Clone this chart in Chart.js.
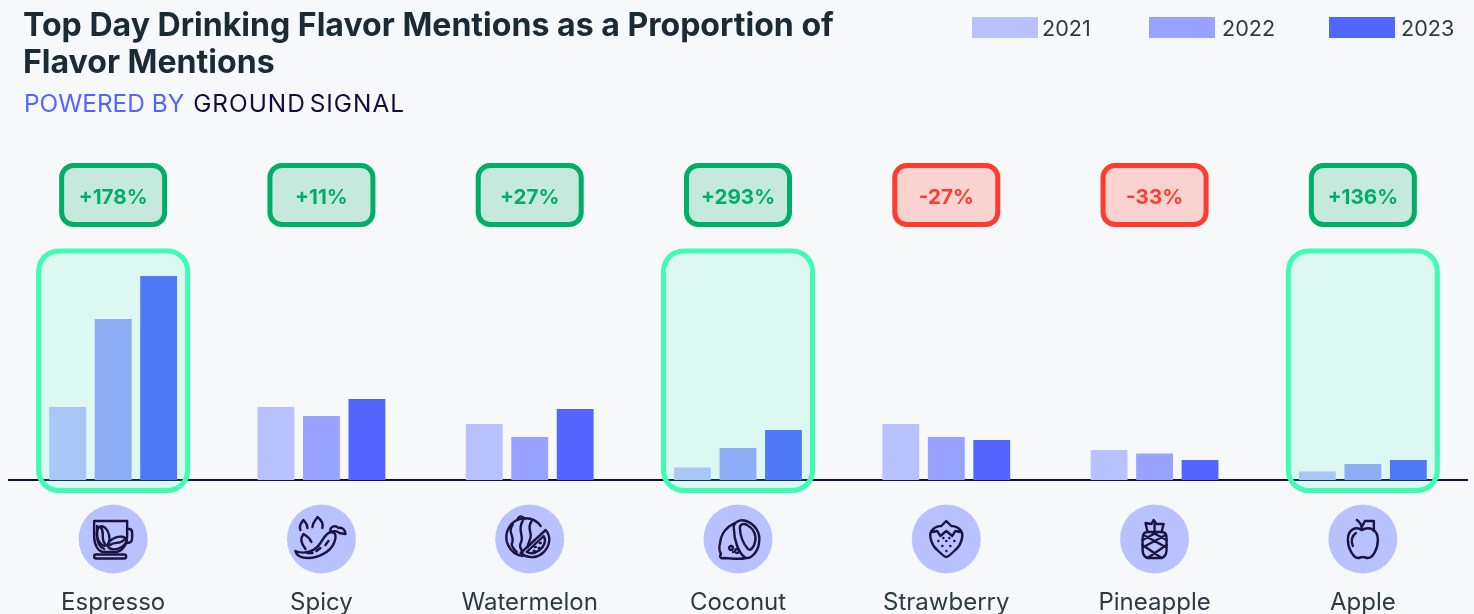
<!DOCTYPE html>
<html>
<head>
<meta charset="utf-8">
<title>Top Day Drinking Flavor Mentions</title>
<script src="https://cdn.jsdelivr.net/npm/chart.js@4"></script>
<style>
    html, body { margin: 0; padding: 0; background: #f7f8fa; overflow: hidden; }
    body { width: 1474px; height: 614px; position: relative; font-family: Inter, sans-serif; }
    #chart { position: absolute; left: 0; top: 0; }
    h1 { position: absolute; left: 23px; top: 6px; width: 840px; margin: 0; font-size: 32.1px; line-height: 37px; font-weight: 700; color: #1b2b36; }
    #powered { position: absolute; left: 24px; top: 89px; font-size: 24.4px; line-height: 29px; font-weight: 400; color: #5266ff; white-space: nowrap; }
    #powered b { font-weight: 400; color: #150b3d; margin-left: 2px; letter-spacing: 1px; word-spacing: -4px; }
    .legend-box { position: absolute; top: 17px; width: 66px; height: 21px; }
    .legend-text { position: absolute; top: 15px; font-size: 21.6px; line-height: 27px; color: #2c3a44; }
</style>
</head>
<body>
<canvas id="chart" width="1474" height="614"></canvas>
<h1>Top Day Drinking Flavor Mentions as a Proportion of Flavor Mentions</h1>
<div id="powered">POWERED BY <b>GROUND SIGNAL</b></div>
<div id="legend"></div>
<script>
const flavors = ['Espresso', 'Spicy', 'Watermelon', 'Coconut', 'Strawberry', 'Pineapple', 'Apple'];
const years = ['2021', '2022', '2023'];
const values2021 = [7.3, 7.3, 5.6, 1.25, 5.6, 3.0, 0.85];
const values2022 = [16.1, 6.4, 4.3, 3.2, 4.3, 2.65, 1.6];
const values2023 = [20.4, 8.1, 7.1, 5.0, 4.0, 2.0, 2.0];
const changes = ['+178%', '+11%', '+27%', '+293%', '-27%', '-33%', '+136%'];
const highlighted = ['Espresso', 'Coconut', 'Apple'];
const yearColors = ['#b9c2ff', '#98a3ff', '#5266ff'];

// line icons, drawn around the centre of each circle
const icons = {
    Espresso: [
        'M-19 -18 H14 V-3 C14 7 8 13 2 13 H-9 C-15 13 -19 6 -19 -3 Z',
        'M-16 -13 V-3 C-16 3 -13 8 -9 10',
        'M14 -10 H16 C19 -10 19 -8 19 -6 V-1 C19 3 17 4 13 4',
        'M-17 15.5 H11 a2 2 0 0 1 0 4 H-17 a2 2 0 0 1 0 -4 Z',
        'M-12.5 -12.7 A10 6 75 1 1 -7.5 6.7 A10 6 75 1 1 -12.5 -12.7 Z',
        'M-12 -11 C-8 -6 -13 0 -8 5',
        'M-5 7.5 A9.5 5.5 -22 1 1 13 0.5 A9.5 5.5 -22 1 1 -5 7.5 Z',
        'M-3 6 C2 2 6 6 11 1'
    ],
    Spicy: [
        'M-26 12 C-16 16 -6 12 -1 4 C3 -2 5 -6 9 -7 C15 -7 15 -2 13 3 C9 14 -5 19 -13 19 C-19 19 -25 17 -26 12 Z',
        'M9 -7 C8 -13 14 -14 17 -11 C21 -12 24 -9 24 -5 L18 -6 C16 -8 12 -8 9 -7',
        'M-16 10 C-20 5 -22 0 -18 -5 C-15 -3 -12 -2 -10 3',
        'M-21 -9 C-23 -14 -20 -16 -18 -19 C-15 -16 -14 -14 -14 -11',
        'M-9 -12 C-9 -17 -6 -18 -4 -22 C0 -19 2 -16 1 -11',
        'M-14 14 H-9 M-5 12 L-1 9 M4 6 L7 2'
    ],
    Watermelon: [
        'M11 -13 A19 19 0 1 0 -7 17',
        'M-17 -14 C-23 -7 -14 -2 -18 5 C-18 8 -15 11 -13 13',
        'M-7 -18 C-13 -9 -5 -3 -9 4 C-11 8 -8 11 -7 13',
        'M2 -18 C-4 -10 4 -6 0 1 C-1 4 -2 6 -2 8',
        'M-5 -20 C-7 -23 -10 -24 -12 -20',
        'M-9 14 L16 -9 C22 -2 20 8 13 14 C6 20 -3 19 -9 14 Z',
        'M-3 13 L14 -3 C17 2 14 8 10 11 C6 14 1 15 -3 13 Z',
        'M5 8 h1 M10 4 h1 M9 9 h1 M4 12 h1'
    ],
    Coconut: [
        'M-3 -16 C-12 -12 -17 -4 -18 4 C-19 8 -19 12 -17 15 C-19 18 -17 20 -14 19 C-7 19 0 21 8 19',
        'M-4 -9 C-6 -17 2 -20 8 -18 C17 -15 23 -6 21 4 C20 13 13 20 8 19 C0 15 -4 -1 -4 -9 Z',
        'M2 -10 C1 -15 6 -16 9 -14 C15 -11 19 -4 17 3 C16 9 12 12 10 10 C5 5 2 -4 2 -10 Z',
        'M-7 7 a2 2 0 1 0 0.1 0 M-1 10 a2 2 0 1 0 0.1 0 M-5 13 h0.1'
    ],
    Strawberry: [
        'M-13 -10 C-19 -6 -15 6 -9 11 C-4 16 -2 18 0 18 C2 18 4 16 9 11 C15 6 19 -6 13 -10',
        'M-14 -7 L-9 -8 L-6 -3 L0 -8 L6 -3 L9 -8 L14 -7 C14 -11 9 -13 5 -13 L0 -18 L-5 -13 C-9 -13 -14 -11 -14 -7 Z',
        'M-8 2 h0.1 M0 2 h0.1 M8 2 h0.1 M-4 7 h0.1 M4 7 h0.1 M0 12 h0.1 M-3 -1 h0.1 M3 -1 h0.1'
    ],
    Pineapple: [
        'M-7 -7 H7 C12 -7 12 -3 12 0 V11 C12 16 9 19 6 19 H-6 C-9 19 -12 16 -12 11 V0 C-12 -3 -12 -7 -7 -7 Z',
        'M-11 -4 L11 8 M-12 6 L7 19 M11 -4 L-11 8 M12 6 L-7 19 M-3 -7 L12 1 M3 -7 L-12 1',
        'M-7 -7 L-9 -16 L-3 -15 L-1 -19 L2 -15 L9 -15 L7 -7',
        'M0 -15 V-7'
    ],
    Apple: [
        'M-1 -9 C-7 -13 -15 -10 -15 1 C-15 10 -9 19 -5 19 C-3 19 -2 18 0 18 C2 18 3 19 5 19 C10 19 15 10 15 1 C15 -10 6 -13 -1 -9 Z',
        'M-1 -9 C-1 -13 -3 -17 -6 -19',
        'M-1 -12 L2 -18 H11 V-8',
        'M-10 7 C-12 2 -11 -3 -7 -6'
    ]
};

// html legend, same labels and colours as the datasets
const legendLeft = [972, 1149, 1329];
const legendTextLeft = [1042, 1222, 1401];
const legend = document.getElementById('legend');
years.forEach(function(year, i) {
    legend.innerHTML += `<div class="legend-box" style="left:${legendLeft[i]}px;background:${yearColors[i]}"></div>`;
    legend.innerHTML += `<div class="legend-text" style="left:${legendTextLeft[i]}px">${year}</div>`;
});

function roundBox(ctx, x, y, w, h, r) {
    ctx.beginPath();
    ctx.roundRect(x, y, w, h, r);
}

// badges above, green highlight over the bars, icons below the axis
const decorations = {
    id: 'decorations',
    afterDatasetsDraw: function(chart) {
        const ctx = chart.ctx;
        const xScale = chart.scales.x;
        const base = chart.chartArea.bottom;
        ctx.save();

        flavors.forEach(function(name, i) {
            const cx = xScale.getPixelForValue(i);

            if (highlighted.includes(name)) {
                roundBox(ctx, cx - 74.5, base - 229, 149, 239.5, 20);
                ctx.fillStyle = 'rgba(62, 240, 190, 0.14)';
                ctx.fill();
                ctx.lineWidth = 5;
                ctx.strokeStyle = '#3efcb4';
                ctx.stroke();
            }

            const up = changes[i].startsWith('+');
            roundBox(ctx, cx - 51.5, base - 314.5, 103, 59, 12);
            ctx.fillStyle = up ? '#c5e9dd' : '#fad2d0';
            ctx.fill();
            ctx.lineWidth = 5;
            ctx.strokeStyle = up ? '#00ae68' : '#ff3b2f';
            ctx.stroke();
            ctx.fillStyle = up ? '#00ae68' : '#ff3b2f';
            ctx.font = '700 20.6px Inter';
            ctx.textAlign = 'center';
            ctx.textBaseline = 'middle';
            ctx.fillText(changes[i], cx, base - 282);

            ctx.beginPath();
            ctx.arc(cx, base + 59, 34.5, 0, Math.PI * 2);
            ctx.fillStyle = '#b9c2ff';
            ctx.fill();

            ctx.save();
            ctx.translate(cx, base + 59);
            ctx.strokeStyle = '#1c1340';
            ctx.lineWidth = 2.4;
            ctx.lineCap = 'round';
            ctx.lineJoin = 'round';
            icons[name].forEach(function(d) {
                ctx.stroke(new Path2D(d));
            });
            ctx.restore();
        });
        ctx.restore();
    }
};

new Chart(document.getElementById('chart').getContext('2d'), {
    type: 'bar',
    data: {
        labels: flavors,
        datasets: [
            { label: years[0], data: values2021, backgroundColor: yearColors[0] },
            { label: years[1], data: values2022, backgroundColor: yearColors[1] },
            { label: years[2], data: values2023, backgroundColor: yearColors[2] }
        ]
    },
    options: {
        responsive: false,
        animation: false,
        layout: { padding: { left: 9, right: 7, top: 210, bottom: 0 } },
        datasets: { bar: { categoryPercentage: 0.655, barPercentage: 0.81 } },
        plugins: { legend: { display: false }, tooltip: { enabled: false } },
        scales: {
            x: {
                afterFit: function(scale) {
                    scale.height = 134;
                    // labels fit inside their bands, no extra side room
                    scale.paddingLeft = 0;
                    scale.paddingRight = 0;
                },
                grid: { display: false, drawTicks: false },
                border: { color: '#150b3d', width: 2 },
                ticks: {
                    autoSkip: false,
                    maxRotation: 0,
                    padding: 108,
                    color: '#2c3a44',
                    font: { family: 'Inter', size: 24 }
                }
            },
            y: { display: false, min: 0, max: 27 }
        }
    },
    plugins: [decorations]
});
</script>
</body>
</html>
